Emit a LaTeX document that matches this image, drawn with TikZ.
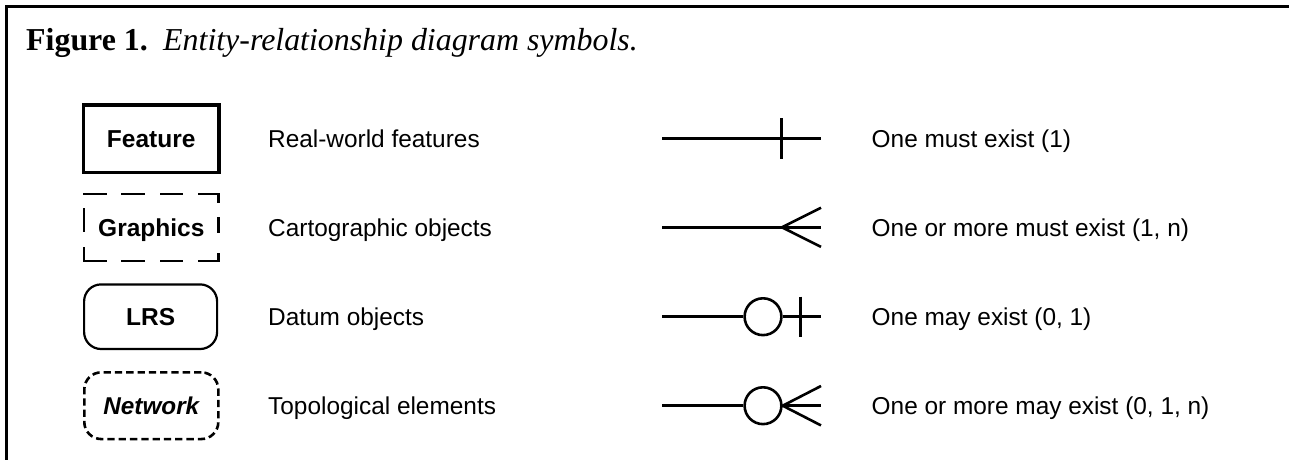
\documentclass[tikz,border=0pt]{standalone}
\usepackage{fontspec}
\setmainfont{Liberation Sans}
\newfontfamily\titleserif{Liberation Serif}
\begin{document}
\begin{tikzpicture}[x=1pt,y=-1pt,
  lbl/.style={anchor=base west, inner sep=0pt, font=\fontsize{24.4}{29}\selectfont},
  ttl/.style={anchor=base west, inner sep=0pt, font=\titleserif\fontsize{31.9}{36}\selectfont},
  symtext/.style={inner sep=0pt, text height=17.4pt, text depth=0pt, font=\fontsize{24.5}{29}\selectfont\bfseries},
  featbox/.style={symtext, draw, line width=3.3pt, minimum width=135.7pt, minimum height=67.7pt},
  graphbox/.style={symtext, minimum width=134pt, minimum height=66.7pt},
  gdash/.style={line width=2.4pt, line cap=rect},
  lrsbox/.style={symtext, draw, line width=2.2pt, rounded corners=17pt, minimum width=133pt, minimum height=64.6pt},
  netbox/.style={symtext, draw, line width=2.6pt, dash pattern=on 7.3pt off 4pt, rounded corners=17pt, minimum width=134pt, minimum height=66.7pt, font=\fontsize{24.3}{29}\selectfont\bfseries\itshape},
  conn/.style={line width=2.6pt},
  ring/.style={circle, draw, line width=2.6pt, minimum size=36.8pt, inner sep=0pt}
]
\useasboundingbox (0,0) rectangle (1289,459);
% open frame
\coordinate (fbl) at (6.7,470);
\coordinate (ftl) at (6.7,6.7);
\coordinate (ftr) at (1300,6.7);
\draw[line width=3.3pt] (fbl) -- (ftl) -- (ftr);
% title
\node[ttl] (t1) at (26,50) {\bfseries Figure 1.};
\node[ttl] (t2) at (163,50) {\itshape Entity-relationship diagram symbols.};
% symbol boxes
\node[featbox] (feat) at (151.2,138.8) {Feature};
\node[graphbox] (graph) at (151.3,227.7) {Graphics};
\draw[gdash, dash pattern=on 21.5pt off 16.8pt] (graph.north west) -- (graph.north east);
\draw[gdash, dash pattern=on 21.5pt off 16.8pt] (graph.south west) -- (graph.south east);
\draw[gdash, dash pattern=on 7.8pt off 15.8pt on 14.2pt off 22.4pt on 8pt off 10pt] (graph.north east) -- (graph.south east);
\draw[gdash, dash pattern=on 13.1pt off 17.4pt on 21.6pt off 20pt] (graph.south west) -- (graph.north west);
\node[lrsbox] (lrs) at (150.6,316.7) {LRS};
\node[netbox] (net) at (151.3,405.7) {Network};
% left labels
\node[lbl] (l1) at (268,147.4) {Real-world features};
\node[lbl] (l2) at (268,236.3) {Cartographic objects};
\node[lbl] (l3) at (268,325.4) {Datum objects};
\node[lbl] (l4) at (268,414.4) {Topological elements};
% right labels
\node[lbl] (m1) at (871.5,147.4) {One must exist (1)};
\node[lbl] (m2) at (871.5,236.3) {One or more must exist (1, n)};
\node[lbl] (m3) at (871.5,325.4) {One may exist (0, 1)};
\node[lbl] (m4) at (871.5,414.4) {One or more may exist (0, 1, n)};
% row 1: one must exist
\coordinate (a1) at (662,138.7);
\coordinate (b1) at (821,138.7);
\coordinate (k1u) at (781.7,118);
\coordinate (k1d) at (781.7,159.4);
\draw[conn] (a1) -- (b1);
\draw[conn] (k1u) -- (k1d);
% row 2: one or more must exist
\coordinate (a2) at (662,227.3);
\coordinate (b2) at (821,227.3);
\coordinate (p2) at (782,227.3);
\coordinate (u2) at (821,207.7);
\coordinate (d2) at (821,246.9);
\draw[conn] (a2) -- (b2);
\draw[conn] (u2) -- (p2) -- (d2);
% row 3: one may exist
\coordinate (a3) at (662,316.7);
\node[ring] (c3) at (763,316.7) {};
\coordinate (b3) at (821,316.7);
\coordinate (k3u) at (800.7,296.5);
\coordinate (k3d) at (800.7,336.9);
\draw[conn] (a3) -- (c3.west);
\draw[conn] (c3.east) -- (b3);
\draw[conn] (k3u) -- (k3d);
% row 4: one or more may exist
\coordinate (a4) at (662,405.7);
\node[ring] (c4) at (763,405.7) {};
\coordinate (b4) at (821,405.7);
\coordinate (u4) at (821,386);
\coordinate (d4) at (821,425.4);
\draw[conn] (a4) -- (c4.west);
\draw[conn] (c4.east) -- (b4);
\draw[conn] (u4) -- (c4.east) -- (d4);
\end{tikzpicture}
\end{document}
